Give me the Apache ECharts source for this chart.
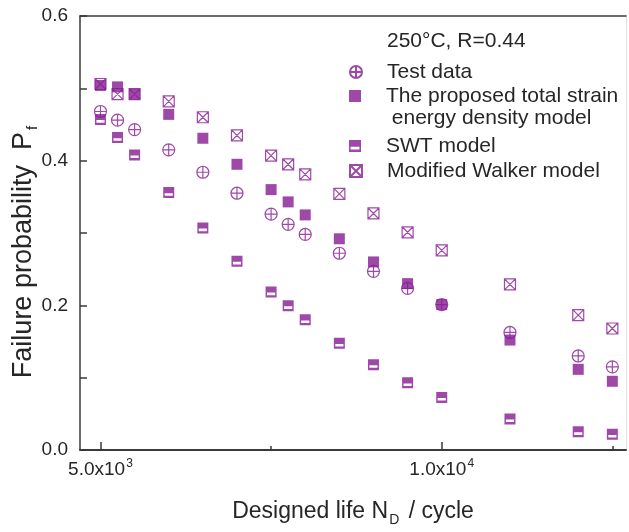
<!DOCTYPE html>
<html>
<head>
<meta charset="utf-8">
<script src="https://cdn.jsdelivr.net/npm/echarts@6/dist/echarts.min.js"></script>
<style>
  html, body { margin: 0; padding: 0; background: #fff; }
  #chart { width: 629px; height: 532px; }
</style>
</head>
<body>
<div id="chart"></div>
<script>
// Designed life (cycles) shared by every series
const designedLife = [5000, 5250, 5500, 6000, 6500, 7000, 7500, 7750, 8000, 8500, 9000, 9500, 10000, 11000, 12000, 12500];

// Failure probability for each series
const testData = [0.468, 0.456, 0.443, 0.415, 0.384, 0.355, 0.326, 0.312, 0.298, 0.272, 0.247, 0.2235, 0.201, 0.1625, 0.130, 0.115];
const proposedModel = [0.504, 0.502, 0.492, 0.464, 0.431, 0.395, 0.360, 0.343, 0.325, 0.292, 0.260, 0.230, 0.201, 0.152, 0.1115, 0.095];
const swtModel = [0.457, 0.432, 0.408, 0.356, 0.307, 0.261, 0.2185, 0.1995, 0.180, 0.1476, 0.118, 0.093, 0.0727, 0.043, 0.0253, 0.0217];
const walkerModel = [0.506, 0.492, 0.492, 0.482, 0.460, 0.435, 0.407, 0.395, 0.381, 0.354, 0.327, 0.301, 0.276, 0.229, 0.1865, 0.168];

// Axis ticks
const xMajorTicks = [5000, 10000];
const xMinorTicks = [7500, 12500];
const xTickLabels = { 5000: ['5.0x10', '3'], 10000: ['1.0x10', '4'] };

const seriesNames = ['Test data', 'The proposed total strain', 'SWT model', 'Modified Walker model'];

const purple = '#861b92';
const ink = '#262626';
const axisInk = '#3a3a3a';
const fontFamily = 'Liberation Sans, Arial, Helvetica, sans-serif';

const symCirclePlus = 'path://M0,5A5,5,0,1,1,10,5A5,5,0,1,1,0,5Z M5,0L5,10 M0,5L10,5';
const symSwt = 'path://M0,0H10V5.6H0Z M0,5.6H1.3V7.9H0Z M8.7,5.6H10V7.9H8.7Z M0,7.9H10V10H0Z';
const symWalker = 'path://M0,0H10V10H0Z M0,0L10,10 M10,0L0,10';

const pairs = ys => designedLife.map((x, i) => [x, ys[i]]);

const hollowStyle = { color: 'rgba(255,255,255,0)', borderColor: purple, borderWidth: 1.2 };
const walkerStyle = { color: '#fff', borderColor: purple, borderWidth: 1.2 };
const filledStyle = { color: purple, borderWidth: 0 };

const xRange = { min: 4700, max: 12700 };

// One legend block per row so each row sits at its own height
function legendRow(name, centerY) {
  return {
    data: [name],
    left: 349,
    top: centerY - 11,
    padding: 0,
    itemWidth: 12,
    itemHeight: 12,
    selectedMode: false,
    textStyle: { fontSize: 21, fontFamily: fontFamily, color: ink, padding: [0, 0, 0, 20], lineHeight: 22 }
  };
}

const chart = echarts.init(document.getElementById('chart'), null, { renderer: 'canvas' });

chart.setOption({
  animation: false,
  backgroundColor: '#fff',
  grid: { left: 80, top: 16, right: 3, bottom: 73, containLabel: false },
  xAxis: [
    {
      type: 'value', position: 'bottom', ...xRange,
      axisLine: { show: true, lineStyle: { color: axisInk, width: 2 } },
      axisTick: { show: true, inside: true, length: 8, customValues: xMajorTicks, lineStyle: { color: axisInk, width: 1.5 } },
      axisLabel: {
        show: true, margin: 8, customValues: xMajorTicks,
        formatter: v => {
          const t = xTickLabels[v];
          return t ? '{a|' + t[0] + '}{s|' + t[1] + '}' : '';
        },
        rich: {
          a: { fontSize: 19, fontFamily: fontFamily, color: ink },
          s: { fontSize: 12, fontFamily: fontFamily, color: ink, padding: [0, 0, 12, 1] }
        }
      },
      splitLine: { show: false },
      name: '{a|Designed life N}{s|D}{a| / cycle}',
      nameLocation: 'middle',
      nameGap: 46,
      nameTextStyle: {
        rich: {
          a: { fontSize: 23, fontFamily: fontFamily, color: ink },
          s: { fontSize: 14, fontFamily: fontFamily, color: ink, padding: [17, 3, 0, 1] }
        }
      }
    },
    {
      type: 'value', position: 'bottom', ...xRange,
      axisLine: { show: false },
      axisTick: { show: true, inside: true, length: 4, customValues: xMinorTicks, lineStyle: { color: axisInk, width: 1.5 } },
      axisLabel: { show: false },
      splitLine: { show: false }
    },
    {
      type: 'value', position: 'top', ...xRange,
      axisLine: { show: true, lineStyle: { color: axisInk, width: 1.5 } },
      axisTick: { show: false },
      axisLabel: { show: false },
      splitLine: { show: false }
    }
  ],
  yAxis: [
    {
      type: 'value', position: 'left', min: 0, max: 0.6, interval: 0.2,
      axisLine: { show: true, lineStyle: { color: axisInk, width: 1.5 } },
      axisTick: { show: true, inside: true, length: 7, lineStyle: { color: axisInk, width: 1.5 } },
      minorTick: { show: true, splitNumber: 2, length: 7, lineStyle: { color: axisInk, width: 1.5 } },
      axisLabel: { margin: 12, fontSize: 19, fontFamily: fontFamily, color: ink, formatter: v => v.toFixed(1) },
      splitLine: { show: false }
    },
    {
      type: 'value', position: 'right', min: 0, max: 0.6,
      axisLine: { show: true, lineStyle: { color: '#e2e2e2', width: 1 } },
      axisTick: { show: false },
      axisLabel: { show: false },
      splitLine: { show: false }
    }
  ],
  legend: [
    legendRow(seriesNames[0], 72),
    legendRow(seriesNames[1], 96),
    legendRow(seriesNames[2], 146),
    legendRow(seriesNames[3], 171)
  ],
  graphic: [
    {
      type: 'text', left: 387, top: 31,
      style: { text: '250°C, R=0.44', font: '21px ' + fontFamily, fill: ink }
    },
    {
      type: 'text', left: 386, top: 108,
      style: { text: ' energy density model', font: '21px ' + fontFamily, fill: ink }
    },
    {
      // rotated axis title for the probability axis
      type: 'text', x: 24, y: 252, rotation: Math.PI / 2,
      style: {
        text: '{a|Failure probability  P}{s|f}',
        align: 'center', verticalAlign: 'middle',
        rich: {
          a: { fontSize: 27, fontFamily: fontFamily, fill: ink },
          s: { fontSize: 15, fontFamily: fontFamily, fill: ink, padding: [18, 0, 0, 2] }
        }
      }
    }
  ],
  series: [
    {
      name: seriesNames[3], type: 'scatter', data: pairs(walkerModel),
      symbol: symWalker, symbolSize: 11, itemStyle: walkerStyle, z: 2
    },
    {
      name: seriesNames[0], type: 'scatter', data: pairs(testData),
      symbol: symCirclePlus, symbolSize: 12, itemStyle: hollowStyle, z: 3
    },
    {
      name: seriesNames[2], type: 'scatter', data: pairs(swtModel),
      symbol: symSwt, symbolSize: 11, itemStyle: filledStyle, z: 4
    },
    {
      name: seriesNames[1], type: 'scatter', data: pairs(proposedModel),
      symbol: 'rect', symbolSize: 11, itemStyle: filledStyle, z: 5
    }
  ]
});
</script>
</body>
</html>
